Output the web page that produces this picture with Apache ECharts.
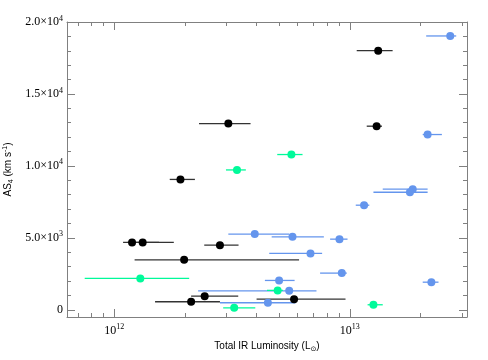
<!DOCTYPE html>
<html>
<head>
<meta charset="utf-8">
<script src="https://cdn.jsdelivr.net/npm/echarts@6/dist/echarts.min.js"></script>
<style>html,body{margin:0;padding:0;background:#fff}#c{width:488px;height:360px}</style>
</head>
<body>
<div id="c"></div>
<script>
// ---- data (luminosity in L_sun, value in km/s) ----
const blackL  = [1.19e12, 1.32e12, 2.81e12, 1.98e12, 2.42e12, 2.12e12, 5.80e12, 3.05e12, 1.91e12, 1.32e13, 1.30e13];
const blackLo = [1.09e12, 1.14e12, 2.41e12, 1.22e12, 2.12e12, 1.49e12, 4.02e12, 2.29e12, 1.72e12, 1.07e13, 1.18e13];
const blackHi = [1.55e12, 1.79e12, 3.37e12, 6.09e12, 3.36e12, 2.81e12, 9.59e12, 3.79e12, 2.20e12, 1.52e13, 1.37e13];
const blackV  = [4680, 4680, 4490, 3470, 950, 560, 740, 12940, 9060, 18010, 12760];

const greenL  = [1.29e12, 3.23e12, 4.94e12, 1.26e13, 3.32e12, 5.65e12];
const greenLo = [7.49e11, 2.90e12, 4.45e12, 1.19e13, 2.98e12, 4.92e12];
const greenHi = [2.08e12, 3.97e12, 5.20e12, 1.38e13, 3.62e12, 6.30e12];
const greenV  = [2180, 140, 1350, 350, 9720, 10790];

const blueL  = [2.67e13, 2.14e13, 1.85e13, 1.80e13, 3.95e12, 5.71e12, 9.04e12, 6.81e12, 9.25e12, 5.01e12, 5.53e12, 4.49e12, 2.22e13, 1.15e13];
const blueLo = [2.11e13, 2.04e13, 1.38e13, 1.26e13, 3.05e12, 4.66e12, 8.25e12, 4.55e12, 7.48e12, 4.36e12, 2.27e12, 2.81e12, 2.04e13, 1.06e13];
const blueHi = [2.83e13, 2.46e13, 2.14e13, 2.14e13, 5.53e12, 7.76e12, 9.78e12, 7.63e12, 9.71e12, 5.83e12, 7.22e12, 5.88e12, 2.38e13, 1.21e13];
const blueV  = [19030, 12180, 8380, 8170, 5260, 5070, 4910, 3920, 2550, 2040, 1320, 490, 1920, 7270];

const xMajorTicks = [1e12, 1e13];
const xMinorTicks = [7e11, 8e11, 9e11, 2e12, 3e12, 4e12, 5e12, 6e12, 7e12, 8e12, 9e12, 2e13, 3e13];
const yMajorTicks = [0, 5000, 10000, 15000, 20000];
const yMinorTicks = [1000, 2000, 3000, 4000, 6000, 7000, 8000, 9000, 11000, 12000, 13000, 14000, 16000, 17000, 18000, 19000];
const X_MIN = 6.3e11, X_MAX = 3.145e13;
const Y_MIN = -500, Y_MAX = 20000;

// ---- build ----
const LOG = v => Math.log10(v);
const AXIS_COLOR = '#808080';
const SERIF = 'Liberation Serif';
const SANS = 'Liberation Sans';
const tickRich = {
  b: {fontFamily: SERIF, fontSize: 12, color: '#000', lineHeight: 15},
  s: {fontFamily: SERIF, fontSize: 8, color: '#000', verticalAlign: 'top', lineHeight: 15}
};

function xAxisDef(pos, ticks, len, withLabel, withLine) {
  return {
    type: 'value', position: pos, min: LOG(X_MIN), max: LOG(X_MAX),
    splitLine: {show: false},
    axisLine: {show: withLine, onZero: false, lineStyle: {color: AXIS_COLOR, width: 1}},
    axisTick: {show: true, inside: true, length: len, customValues: ticks.map(LOG), lineStyle: {color: AXIS_COLOR}},
    axisLabel: withLabel ? {
      show: true, margin: 6, customValues: ticks.map(LOG),
      formatter: v => '{b|10}{s|' + Math.round(v) + '}', rich: tickRich
    } : {show: false}
  };
}
function yAxisDef(pos, ticks, len, withLabel, withLine) {
  return {
    type: 'value', position: pos, min: Y_MIN, max: Y_MAX,
    splitLine: {show: false},
    axisLine: {show: withLine, onZero: false, lineStyle: {color: AXIS_COLOR, width: 1}},
    axisTick: {show: true, inside: true, length: len, customValues: ticks, lineStyle: {color: AXIS_COLOR}},
    axisLabel: withLabel ? {
      show: true, margin: 4, customValues: ticks,
      formatter: v => {
        if (v === 0) return '{b|0}';
        const e = Math.floor(Math.log10(v) + 1e-9);
        const m = (v / Math.pow(10, e)).toFixed(1);
        return '{b|' + m + '×10}{s|' + e + '}';
      },
      rich: tickRich
    } : {show: false}
  };
}

const xAxes = [
  xAxisDef('bottom', xMajorTicks, 8, true, true),
  xAxisDef('bottom', xMinorTicks, 4, false, false),
  xAxisDef('top', xMajorTicks, 8, false, true),
  xAxisDef('top', xMinorTicks, 4, false, false)
];
Object.assign(xAxes[0], {
  name: '{t|Total IR Luminosity (L}{sub|⊙}{t|)}', nameLocation: 'middle', nameGap: 18,
  nameTextStyle: {rich: {
    t: {fontFamily: SANS, fontSize: 10, color: '#000', lineHeight: 13},
    sub: {fontFamily: 'DejaVu Sans', fontSize: 7, color: '#000', verticalAlign: 'bottom', lineHeight: 13}
  }}
});
const yAxes = [
  yAxisDef('left', yMajorTicks, 8, true, true),
  yAxisDef('left', yMinorTicks, 4, false, false),
  yAxisDef('right', yMajorTicks, 8, false, true),
  yAxisDef('right', yMinorTicks, 4, false, false)
];
Object.assign(yAxes[0], {
  name: '{t|AS}{sub|4}{t| (km s}{sup|-1}{t|)}', nameLocation: 'middle', nameRotate: 90, nameGap: 46,
  nameTextStyle: {rich: {
    t: {fontFamily: SANS, fontSize: 10, color: '#000', lineHeight: 13},
    sub: {fontFamily: SANS, fontSize: 7, color: '#000', verticalAlign: 'bottom', lineHeight: 13},
    sup: {fontFamily: SANS, fontSize: 7, color: '#000', verticalAlign: 'top', lineHeight: 13}
  }}
});

function groupSeries(L, Lo, Hi, V, color, barColor) {
  const bars = L.map((_, i) => [LOG(Lo[i]), LOG(Hi[i]), V[i]]);
  const pts = L.map((l, i) => [LOG(l), V[i]]);
  return [
    {
      type: 'custom', xAxisIndex: 0, yAxisIndex: 0, data: bars,
      encode: {x: [0, 1], y: 2},
      renderItem: (params, api) => {
        const a = api.coord([api.value(0), api.value(2)]);
        const b = api.coord([api.value(1), api.value(2)]);
        return {type: 'line', shape: {x1: a[0], y1: a[1], x2: b[0], y2: b[1]},
                style: {stroke: barColor, lineWidth: 1.3}};
      }
    },
    {
      type: 'scatter', xAxisIndex: 0, yAxisIndex: 0, data: pts,
      symbol: 'circle', symbolSize: 8, itemStyle: {color: color, opacity: 1}
    }
  ];
}

const chart = echarts.init(document.getElementById('c'), null, {renderer: 'canvas'});
chart.setOption({
  animation: false,
  backgroundColor: '#fff',
  grid: {left: 67, right: 21, top: 22, bottom: 43, containLabel: false, outerBoundsMode: 'none'},
  xAxis: xAxes,
  yAxis: yAxes,
  series: [
    ...groupSeries(blueL, blueLo, blueHi, blueV, '#6495ED', '#6495ED'),
    ...groupSeries(greenL, greenLo, greenHi, greenV, '#00FA9A', '#00FA9A'),
    ...groupSeries(blackL, blackLo, blackHi, blackV, '#000000', '#333333')
  ]
});
</script>
</body>
</html>
